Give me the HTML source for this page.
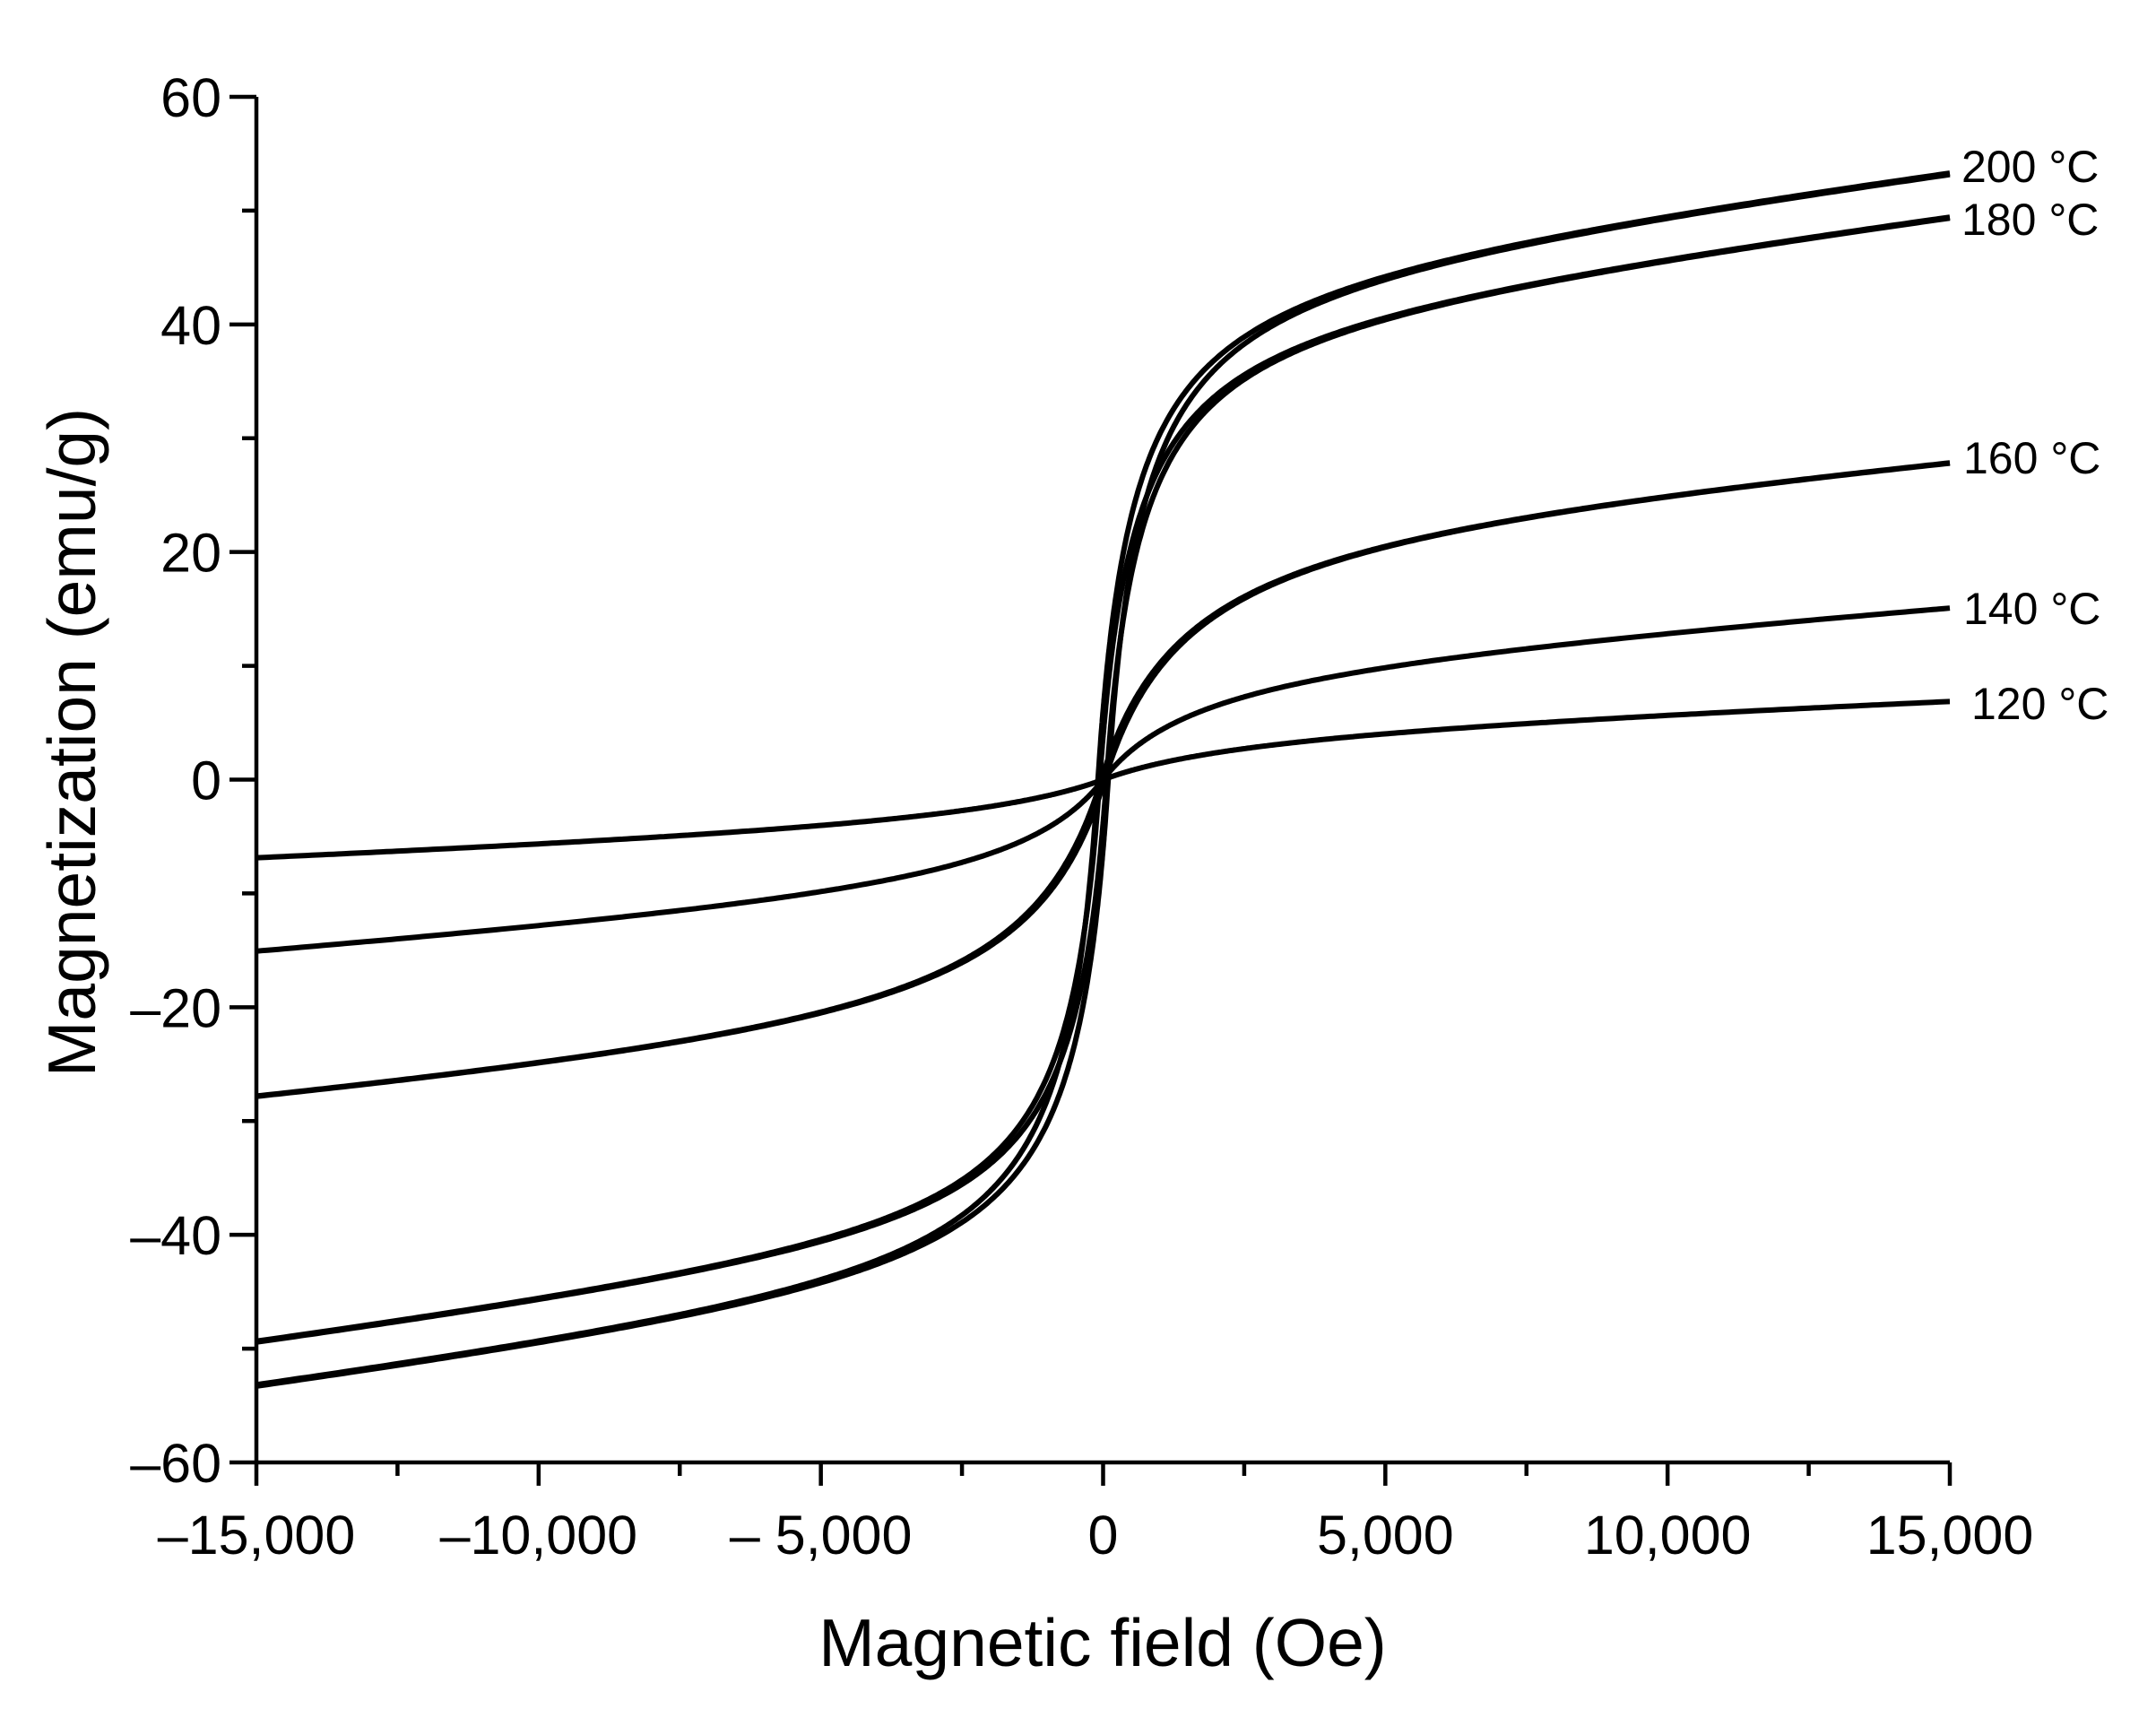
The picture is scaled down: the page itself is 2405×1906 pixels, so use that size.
<!DOCTYPE html>
<html><head><meta charset="utf-8"><style>body{margin:0;background:#fff}svg{display:block}</style></head>
<body>
<svg id="s" width="2405" height="1906" viewBox="0 0 2405 1906" xmlns="http://www.w3.org/2000/svg" font-family="Liberation Sans, Arial, sans-serif">
<rect width="2405" height="1906" fill="#fff"/>
<g id="axes" stroke="#000" stroke-width="4.5" fill="none"></g>
<g id="curves" stroke="#000" stroke-width="6" fill="none" stroke-linejoin="round"></g>
<g id="lab" font-size="61" fill="#000"></g>
<text x="1230" y="1858" font-size="75" text-anchor="middle">Magnetic field (Oe)</text>
<text transform="translate(106,828) rotate(-90)" font-size="75" text-anchor="middle">Magnetization (emu/g)</text>
<g font-size="50" fill="#000">
<text x="2188" y="203">200 °C</text>
<text x="2188" y="262">180 °C</text>
<text x="2190" y="528">160 °C</text>
<text x="2190" y="696">140 °C</text>
<text x="2199" y="802">120 °C</text>
</g>
</svg>
<script>
var X0=286,X1=2175,Y60=108,Ym60=1631;
function px(h){return X0+(h+15000)/30000*(X1-X0);}
function py(m){return Y60+(60-m)/120*(Ym60-Y60);}
var ax=document.getElementById('axes'),lab=document.getElementById('lab'),cv=document.getElementById('curves');
var s='M'+X0+' '+Y60+' V'+Ym60+' H'+X1;
for(var v=-60;v<=60;v+=10){var y=py(v);s+=' M'+X0+' '+y+' h'+(v%20==0?-30:-16);}
for(var h=-15000;h<=15000;h+=2500){var x=px(h);s+=' M'+x+' '+Ym60+' v'+(h%5000==0?26:15);}
ax.innerHTML='<path d="'+s+'"/>';
var t='';
for(var v=-60;v<=60;v+=20){t+='<text x="247" y="'+(py(v)+22)+'" text-anchor="end">'+(v<0?'\u2013'+(-v):v)+'</text>';}
var xl={'-15000':'\u201315,000','-10000':'\u201310,000','-5000':'\u2013 5,000','0':'0','5000':'5,000','10000':'10,000','15000':'15,000'};
for(var h=-15000;h<=15000;h+=5000){t+='<text x="'+px(h)+'" y="1733" text-anchor="middle">'+xl[h]+'</text>';}
lab.innerHTML=t;
var P=[[46,600,0.0006,90],[42,600,0.0006,60],[24,1500,0.0004,30],[11,1800,0.00035,0],[5,3000,0.00018,0]];
var c='';
P.forEach(function(p){
 [1,-1].forEach(function(sg){
  if(p[3]==0&&sg<0)return;
  var d='';
  for(var i=0;i<=600;i++){
   var u=i/600*2-1; var h=15000*Math.sign(u)*Math.pow(Math.abs(u),2);
   var hh=h+sg*p[3]; var m=p[0]*hh/(p[1]+Math.abs(hh))+p[2]*hh;
   d+=(i?'L':'M')+px(h).toFixed(1)+' '+py(m).toFixed(1);
  }
  c+='<path d="'+d+'"/>';
 });
});
cv.innerHTML=c;
</script>
</body></html>
